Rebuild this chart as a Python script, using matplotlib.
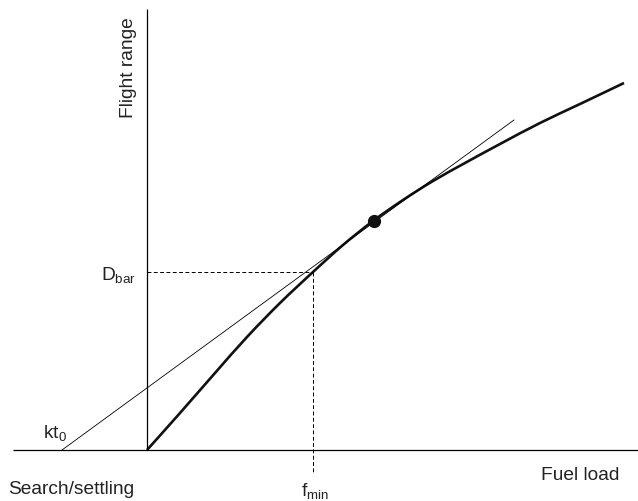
import matplotlib
matplotlib.use("Agg")
import matplotlib.pyplot as plt
from matplotlib.path import Path
from matplotlib.patches import PathPatch

plt.rcParams['font.family'] = ['Liberation Sans', 'DejaVu Sans']
plt.rcParams['mathtext.fontset'] = 'custom'
plt.rcParams['mathtext.rm'] = 'Liberation Sans'
plt.rcParams['mathtext.it'] = 'Liberation Sans'

# Flight range curve (fuel load, flight range) in arbitrary units
fuel = [0, 33, 68, 100, 133, 166, 196, 226, 256, 286, 318, 353, 393, 433, 477]
flight = [0, 37, 77, 113, 147, 178, 205, 229, 250, 269, 287, 306, 327, 346, 367]

# tangent line through kt0
tan_x = [-85, 367]
tan_y = [0, 330]

# optimum point
opt_x = [227]
opt_y = [229]

# threshold values
f_min = 166
D_bar = 178

fig = plt.figure(figsize=(6.38, 5.01), dpi=100)
ax = fig.add_axes([0, 0, 1, 1])
ax.set_xlim(-147, 491)
ax.set_ylim(-51, 450)
ax.axis('off')

# axes lines
ax.plot([-134, 491], [0, 0], color='black', lw=0.9, solid_capstyle='butt')
ax.plot([0, 0], [0, 441], color='black', lw=0.9, solid_capstyle='butt')

# dashed guides
ax.plot([0, f_min], [D_bar, D_bar], color='black', lw=0.7, ls=(0, (4, 2.5)))
ax.plot([f_min, f_min], [D_bar, -23], color='black', lw=0.7, ls=(0, (4, 2.5)))

# tangent
ax.plot(tan_x, tan_y, color='black', lw=0.6)

# smooth curve through the read points (Catmull-Rom drawn as cubic Beziers)
pts = list(zip(fuel, flight))
n = len(pts)
verts = [pts[0]]
codes = [Path.MOVETO]
for i in range(n - 1):
    p0 = pts[max(i - 1, 0)]
    p1 = pts[i]
    p2 = pts[i + 1]
    p3 = pts[min(i + 2, n - 1)]
    c1 = (p1[0] + (p2[0] - p0[0]) / 6.0, p1[1] + (p2[1] - p0[1]) / 6.0)
    c2 = (p2[0] - (p3[0] - p1[0]) / 6.0, p2[1] - (p3[1] - p1[1]) / 6.0)
    verts += [c1, c2, p2]
    codes += [Path.CURVE4] * 3
ax.add_patch(PathPatch(Path(verts, codes), facecolor='none', edgecolor='#111111',
                       lw=1.9, capstyle='butt', joinstyle='round'))

# optimum dot
ax.plot(opt_x, opt_y, 'o', color='#111111', markersize=8.5)

fs = 13.8
ax.text(-14, 382, 'Flight range', rotation=90, rotation_mode='anchor',
        ha='center', va='baseline', fontsize=fs, color='#222222')
ax.text(394, -30, 'Fuel load', ha='left', va='baseline', fontsize=fs, color='#222222')
ax.text(-139, -44, 'Search/settling', ha='left', va='baseline', fontsize=fs, color='#222222')
ax.text(154, -46, r'f$_{\mathrm{min}}$', ha='left', va='baseline', fontsize=fs, color='#222222')
ax.text(-46, 170, r'D$_{\mathrm{bar}}$', ha='left', va='baseline', fontsize=fs, color='#222222')
ax.text(-104, 12, r'kt$_{\mathrm{0}}$', ha='left', va='baseline', fontsize=fs, color='#222222')

fig.savefig('out.png', dpi=100)
